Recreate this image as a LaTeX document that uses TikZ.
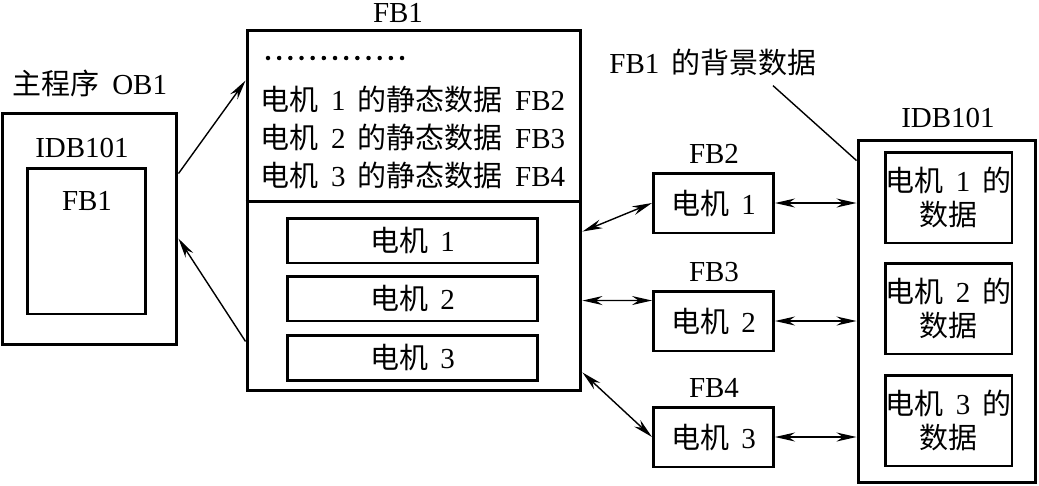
\documentclass[tikz,border=0pt]{standalone}
\usepackage{fontspec}
\setmainfont[WordSpace=1.7]{Liberation Serif}
\newfontfamily\cjk{Noto Sans CJK SC}
\newcommand{\zh}[1]{{\cjk #1}}
\usetikzlibrary{arrows.meta,calc}

\tikzset{
  blk/.style={draw,line width=1.7pt,inner sep=0pt},
  arr/.style={line width=0.8pt,-{Stealth[length=4mm,width=1.8mm,inset=1.3mm]}},
  dbl/.style={line width=0.8pt,{Stealth[length=4mm,width=1.8mm,inset=1.3mm]}-{Stealth[length=4mm,width=1.8mm,inset=1.3mm]}},
}

\begin{document}
\begin{tikzpicture}[x=0.02cm,y=-0.02cm,every node/.style={font=\fontsize{16.5}{19}\selectfont}]
  \useasboundingbox (0,0) rectangle (1039,485);
  % main program with its instance DB
  \node (obt) at (90,83) {\zh{主程序} OB1};
  \node[blk,minimum width=3.5cm,minimum height=4.64cm] (ob) at (89.5,229) {};
  \node (obi) at (82,148) {IDB101};
  \node[blk,minimum width=2.38cm,minimum height=2.92cm] (obf) at (86.5,241) {};
  \node (obft) at (87,201) {FB1};
  % FB1
  \node (fbt) at (398,13) {FB1};
  \node[blk,minimum width=6.68cm,minimum height=7.22cm] (fb1) at (414,210.5) {};
  \draw[line width=1.7pt] ($(fb1.north west)+(0,173)$) -- ($(fb1.north east)+(0,173)$);
  \foreach \k in {0,...,12}{
    \fill (268+\k*11.17,58) circle[radius=0.045cm];
  }
  \foreach \i/\n/\y in {1/2/99,2/3/137,3/4/175}{
    \node (s\i) at (413,\y) {\zh{电机} \i{} \zh{的静态数据} FB\n};
  }
  \foreach \i/\y in {1/240.5,2/298.5,3/357.5}{
    \node[blk,minimum width=5.02cm,minimum height=0.9cm] (m\i) at (412.5,\y) {\zh{电机} \i};
  }
  % FB2..FB4
  \foreach \i/\n/\y in {1/2/203,2/3/321,3/4/437}{
    \node[blk,minimum width=2.4cm,minimum height=1.2cm] (r\i) at (713.5,\y) {\zh{电机} \i};
    \node (rl\i) at (714,\y-49) {FB\n};
  }
  % instance DB of FB1
  \node (bg) at (713,62) {FB1 \zh{的背景数据}};
  \node (idbt) at (948,118) {IDB101};
  \node[blk,minimum width=3.56cm,minimum height=6.86cm] (idb) at (947,311.5) {};
  \foreach \i/\y in {1/197.5,2/308.5,3/420.5}{
    \node[blk,minimum width=2.54cm,minimum height=1.82cm,align=center] (d\i) at (948.5,\y)
      {\zh{电机} \i{} \zh{的}\\\zh{数据}};
  }
  \draw[line width=0.8pt] ($(bg.south)+(60,4)$) -- ($(idb.north west)+(0,22)$);
  % connectors
  \draw[arr] ($(ob.north east)+(0,62)$) -- ($(fb1.north west)+(0,52)$);
  \draw[arr] ($(fb1.south west)+(0,-51)$) -- ($(ob.north east)+(0,127)$);
  \draw[dbl] ($(fb1.north east)+(0,203)$) -- (r1.west);
  \draw[dbl] ($(fb1.north east)+(0,272)$) -- ($(r2.north west)+(0,11)$);
  \draw[dbl] ($(fb1.south east)+(0,-20)$) -- (r3.west);
  \foreach \i in {1,2,3}{
    \draw[dbl] (r\i.east) -- (r\i.east -| idb.west);
  }
\end{tikzpicture}
\end{document}
